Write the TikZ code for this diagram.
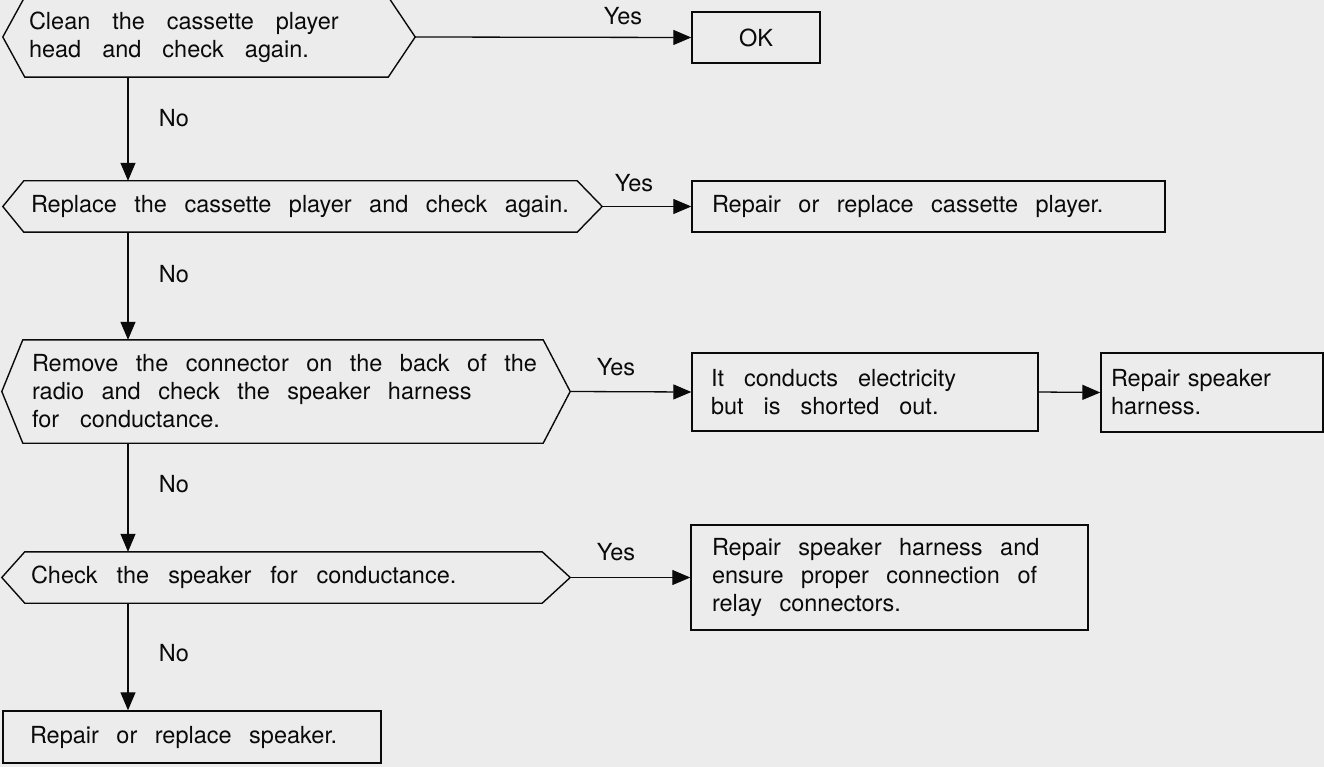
\documentclass[tikz,border=0pt]{standalone}
\usepackage{fontspec}
\setmainfont[WordSpace=2.7]{TeX Gyre Heros}
\newfontfamily\plainsans{TeX Gyre Heros}
\usetikzlibrary{arrows.meta}

\definecolor{paper}{RGB}{236,236,236}
\definecolor{ink}{RGB}{10,10,10}

% one unbreakable line of text with the wide word spacing of the chart
\newcommand\textline[2][17.5pt]{\mbox{\spaceskip=#1\relax #2}}

\tikzset{
  every node/.style={font=\fontsize{23.5pt}{28pt}\selectfont, text=ink},
  body/.style={draw=none, inner ysep=0pt, align=left},
  frame/.style={draw=ink, line width=1.4pt, line join=miter},
  box/.style={draw=ink, line width=1.4pt, inner ysep=0pt, align=left},
  flow/.style={draw=ink, line width=1.3pt, -{Triangle[length=18pt,width=15pt]}},
  tag/.style={inner sep=0pt},
}

% hexagonal decision frame around a body node: #2 = left point, #3 = right point
\newcommand\hexoutline[3]{%
  \draw[frame] ([xshift=-#2pt]#1.west) -- (#1.north west) -- (#1.north east)
    -- ([xshift=#3pt]#1.east) -- (#1.south east) -- (#1.south west) -- cycle;}

\begin{document}
\begin{tikzpicture}[x=1pt, y=-1pt]
  \fill[paper] (0,0) rectangle (1324,767);
  \useasboundingbox (0,0) rectangle (1324,767);

  % decision steps
  \node[body, minimum width=363pt, minimum height=80pt, text width=355pt, inner xsep=4pt]
    (h1) at (206.5,37) {\textline[22pt]{Clean the cassette player}\\\textline[21pt]{head and check again.}};
  \node[body, minimum width=553pt, minimum height=51pt, text width=539pt, inner xsep=7pt]
    (h2) at (300.5,206.5) {\textline{Replace the cassette player and check again.}};
  \node[body, minimum width=520pt, minimum height=103pt, text width=502pt, inner xsep=9pt]
    (h3) at (283,391.5) {\textline{Remove the connector on the back of the}\\\textline{radio and check the speaker harness}\\\textline[21pt]{for conductance.}};
  \node[body, minimum width=517pt, minimum height=51pt, text width=505pt, inner xsep=6pt]
    (h4) at (283.5,577.5) {\textline[19pt]{Check the speaker for conductance.}};

  \hexoutline{h1}{22}{27}
  \hexoutline{h2}{21}{25}
  \hexoutline{h3}{21}{27}
  \hexoutline{h4}{23}{28}

  \coordinate (h1tip) at ([xshift=27pt]h1.east);
  \coordinate (h2tip) at ([xshift=25pt]h2.east);
  \coordinate (h3tip) at ([xshift=27pt]h3.east);
  \coordinate (h4tip) at ([xshift=28pt]h4.east);

  % results
  \node[box, minimum width=128pt, minimum height=51pt, align=center] (ok) at (756,37.5) {OK};
  \node[box, minimum width=473pt, minimum height=51pt, text width=433pt, inner xsep=20pt]
    (r2) at (928.5,206.5) {\textline{Repair or replace cassette player.}};
  \node[box, minimum width=346pt, minimum height=78pt, text width=308pt, inner xsep=19pt]
    (r3) at (865,392) {\textline[20pt]{It conducts electricity}\\\textline[20pt]{but is shorted out.}};
  \node[box, minimum width=222pt, minimum height=79pt, text width=202pt, inner xsep=10pt,
        font=\fontsize{23.5pt}{28pt}\plainsans]
    (r3b) at (1212,392.5) {\mbox{Repair speaker}\\\mbox{harness.}};
  \node[box, minimum width=397pt, minimum height=105pt, text width=355pt, inner xsep=21pt]
    (r4) at (889.5,577.5) {\textline{Repair speaker harness and}\\\textline{ensure proper connection of}\\\textline{relay connectors.}};
  \node[box, minimum width=378pt, minimum height=52pt, text width=324pt, inner xsep=27pt]
    (r5) at (192,737) {\textline{Repair or replace speaker.}};

  % "No" path down the left side
  \coordinate (spine) at (128,0);
  \draw[flow] (h1.south -| spine) -- (h2.north -| spine);
  \draw[flow] (h2.south -| spine) -- (h3.north -| spine);
  \draw[flow] (h3.south -| spine) -- (h4.north -| spine);
  \draw[flow] (h4.south -| spine) -- (r5.north -| spine);

  % "Yes" branches
  \draw[flow] (h1tip) -- (ok.west);
  \draw[flow] (h2tip) -- (r2.west);
  \draw[flow] (h3tip) -- (r3.west);
  \draw[flow] (r3.east) -- (r3b.west);
  \draw[flow] (h4tip) -- (h4tip -| r4.west);

  % branch labels
  \node[tag] (y1) at (623,16) {Yes};
  \node[tag] (y2) at (634,183) {Yes};
  \node[tag] (y3) at (616,367) {Yes};
  \node[tag] (y4) at (616,552) {Yes};
  \node[tag] (n1) at (174,118) {No};
  \node[tag] (n2) at (174,274) {No};
  \node[tag] (n3) at (174,484) {No};
  \node[tag] (n4) at (174,653) {No};
\end{tikzpicture}
\end{document}
